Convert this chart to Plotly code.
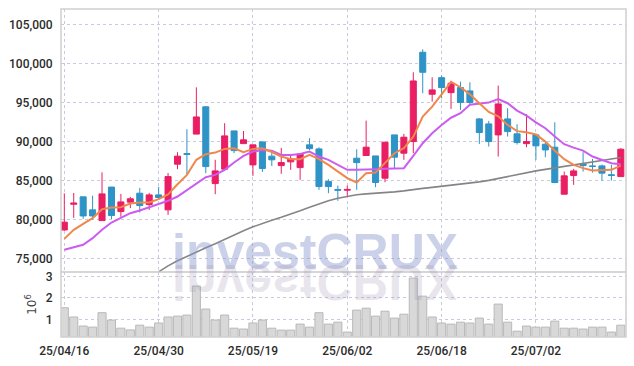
import plotly.graph_objects as go

dates = ["25/04/16","25/04/17","25/04/18","25/04/21","25/04/22","25/04/23","25/04/24","25/04/25","25/04/28","25/04/29",
         "25/04/30","25/05/02","25/05/07","25/05/08","25/05/09","25/05/12","25/05/13","25/05/14","25/05/15","25/05/16",
         "25/05/19","25/05/20","25/05/21","25/05/22","25/05/23","25/05/26","25/05/27","25/05/28","25/05/29","25/05/30",
         "25/06/02","25/06/04","25/06/05","25/06/09","25/06/10","25/06/11","25/06/12","25/06/13","25/06/16","25/06/17",
         "25/06/18","25/06/19","25/06/20","25/06/23","25/06/24","25/06/25","25/06/26","25/06/27","25/06/30","25/07/01",
         "25/07/02","25/07/03","25/07/04","25/07/07","25/07/08","25/07/09","25/07/10","25/07/11","25/07/14","25/07/15"]

opens = [78700,82000,82950,81280,79900,84200,81060,82270,83420,81960,
         83200,81280,87140,88500,91000,94500,84650,86500,91410,89780,
         87050,90000,88170,86960,87440,86700,89620,89100,84910,83900,
         83800,87910,88250,88200,85340,90900,88550,90040,101500,96110,
         98240,96320,96970,96540,92950,92310,90900,92950,91030,89780,
         90900,89700,89320,83290,85680,87180,86920,86920,85780,85550]
highs = [83400,83450,82950,83100,86100,84230,83330,82950,84100,83460,
         84230,86000,88680,91630,97000,94600,87700,92400,91410,91400,
         89620,90000,88700,89230,88330,88460,90470,89300,85220,84400,
         84400,89060,92730,88200,89960,90900,91030,98930,101880,98290,
         98500,97820,97730,97650,93040,92700,97220,94320,92260,93550,
         90900,89900,92520,86190,86540,88680,87820,87100,87050,89200]
lows = [78600,80250,80130,80000,79900,80100,80380,81500,80940,81280,
        82560,80640,86500,85860,90990,85980,83290,86500,88550,89780,
        85640,86150,86900,85900,86410,85130,88930,83850,83420,82440,
        83080,83850,88250,84190,84830,86630,87700,88550,96240,95170,
        95600,94230,94100,94700,89740,89400,88120,90680,89660,89320,
        87700,88040,84700,83290,84490,86190,86060,85040,85040,85550]
closes = [79700,82150,80500,80500,83330,80550,82300,82700,81830,83200,
          82860,85550,88170,88400,93200,86830,86280,90770,88880,90260,
          89620,86580,87700,87350,87820,88460,89140,84270,84270,83800,
          83900,87350,89320,84790,89960,88040,90600,97820,98930,96670,
          96970,97520,95050,95050,91200,90040,94870,91320,89910,90040,
          89490,88970,84790,85640,86280,86960,86850,85990,85700,89060]

ma5 = [77560,78720,79490,80210,81370,81580,81620,82090,82220,82220,
       82650,83250,84570,85770,87700,88420,88630,89100,89190,88680,
       89100,89190,88700,88120,87780,87780,88330,87780,87050,86190,
       85350,84790,85990,86060,87300,88550,89190,90680,93240,94530,
       96110,97700,97010,96100,94960,93850,93280,92180,91380,91240,
       90950,90040,88860,87780,87050,86630,86320,86410,86410,86960]
ma10 = [76150,76450,76800,77650,78720,79660,80210,80850,81190,81620,
        82050,82440,82990,83850,84700,85470,85770,86410,87350,88200,
        88760,88970,88880,88330,88330,88460,88760,88120,87700,87050,
        86410,86410,86500,86500,86540,86540,86630,88200,89830,91110,
        92180,93100,93680,94780,94900,95040,95490,94960,94020,93370,
        92500,91750,90680,89700,89270,88880,88120,87700,87270,87140]
ma60 = [None,None,None,None,None,None,None,None,None,None,
        73330,74100,74740,75320,75900,76410,76920,77500,78080,78590,
        79100,79550,79940,80320,80710,81150,81600,82050,82440,82760,
        83010,83210,83330,83400,83530,83590,83720,83910,84040,84170,
        84300,84490,84620,84740,84870,85060,85320,85580,85830,86090,
        86280,86470,86670,86860,87050,87240,87440,87630,87820,87990]

volumes = [1.54,1.11,0.69,0.64,1.31,0.97,0.59,0.51,0.73,0.64,
           0.83,1.11,1.15,1.20,2.55,1.48,0.97,1.20,0.59,0.55,
           0.83,0.97,0.59,0.50,0.50,0.78,0.64,1.31,0.78,0.87,
           0.41,1.43,1.52,1.15,1.38,1.06,1.24,2.92,2.08,1.11,
           0.83,0.78,0.87,0.83,1.06,0.78,1.71,0.87,0.45,0.69,
           0.64,0.64,0.92,0.59,0.59,0.55,0.64,0.64,0.41,0.73]

price_ticks = [75000, 80000, 85000, 90000, 95000, 100000, 105000]
volume_ticks = [1, 2, 3]
date_ticks = ["25/04/16", "25/04/30", "25/05/19", "25/06/02", "25/06/18", "25/07/02"]

TICKFONT = dict(family="Roboto, sans-serif", size=12, weight=500, color="#2b2b2b")
GRID = "#c9cadf"

fig = go.Figure()
fig.add_trace(go.Bar(x=dates, y=volumes, yaxis="y2", width=0.86,
                     marker=dict(color="#d8d8d8", line=dict(color="#b9b9b9", width=1)),
                     showlegend=False))
fig.add_trace(go.Candlestick(x=dates, open=opens, high=highs, low=lows, close=closes,
                             increasing=dict(line=dict(color="#e91e63", width=1), fillcolor="#e91e63"),
                             decreasing=dict(line=dict(color="#2e93c6", width=1), fillcolor="#2e93c6"),
                             whiskerwidth=0, showlegend=False))
fig.add_trace(go.Scatter(x=dates, y=ma60, mode="lines", line=dict(color="#858585", width=1.6), showlegend=False))
fig.add_trace(go.Scatter(x=dates, y=ma10, mode="lines", line=dict(color="#cc5cf0", width=2), showlegend=False))
fig.add_trace(go.Scatter(x=dates, y=ma5, mode="lines", line=dict(color="#f0874c", width=2), showlegend=False))

SEP = 0.198
fig.update_layout(
    width=634, height=366,
    margin=dict(l=61, r=8, t=9, b=29, autoexpand=False),
    paper_bgcolor="white", plot_bgcolor="white",
    boxgap=0.2, boxgroupgap=0.2,
    xaxis=dict(type="category", range=[-0.35, 59.55], anchor="y2", automargin=False,
               tickvals=date_ticks, ticktext=date_ticks, tickfont=TICKFONT,
               showgrid=True, gridcolor=GRID, griddash="dot", gridwidth=1,
               rangeslider=dict(visible=False), zeroline=False, showline=False,
               ticks="outside", ticklen=3, tickcolor="rgba(0,0,0,0)"),
    yaxis=dict(domain=[SEP, 1], range=[73300, 107050], tickvals=price_ticks, automargin=False,
               tickformat=",d", tickfont=TICKFONT, showgrid=True, gridcolor=GRID,
               griddash="dot", zeroline=False, ticks="outside", ticklen=5,
               tickcolor="rgba(0,0,0,0)"),
    yaxis2=dict(domain=[0, SEP], range=[0.18, 3.2], tickvals=volume_ticks, automargin=False,
                ticktext=[str(v) for v in volume_ticks], tickfont=TICKFONT,
                showgrid=True, gridcolor=GRID, griddash="dot", zeroline=False,
                ticks="outside", ticklen=5, tickcolor="rgba(0,0,0,0)",
                title=dict(text="10<sup>6</sup>", font=dict(family="DejaVu Sans", size=12, color="#444444"), standoff=6)),
    shapes=[
        dict(type="rect", xref="paper", yref="paper", x0=0, x1=1, y0=0, y1=1,
             line=dict(color="#d0d0d0", width=1.5), layer="above"),
        dict(type="line", xref="paper", yref="paper", x0=0, x1=1, y0=SEP, y1=SEP,
             line=dict(color="#c8c8c8", width=1.5), layer="above"),
    ],
    annotations=[
        dict(text="investCRUX", xref="paper", yref="paper", x=0.4496, y=SEP,
             xanchor="center", yanchor="bottom", yshift=-10, showarrow=False,
             font=dict(family="Liberation Sans", size=50, weight=700, color="rgba(130,145,200,0.42)")),
        dict(text="investCRUX", xref="paper", yref="paper", x=0.4496, y=0.2317,
             xanchor="center", yanchor="top", yshift=9, showarrow=False,
             font=dict(family="Liberation Sans", size=50, weight=700, color="rgba(150,140,175,0.22)")),
    ],
)

post = """
document.body.style.margin = '0';
document.body.style.padding = '0';
var gd = document.getElementById('{plot_id}');
function flipWm(){
  var els = gd.querySelectorAll('.annotation[data-index="1"] text.annotation-text');
  els.forEach(function(el){
    el.style.transformBox = 'fill-box';
    el.style.transformOrigin = 'center';
    el.style.transform = 'scaleY(-1)';
  });
}
flipWm();
if (gd.on) { gd.on('plotly_afterplot', flipWm); }
"""

fig.write_html("out.html", post_script=post, config={"displayModeBar": False})
